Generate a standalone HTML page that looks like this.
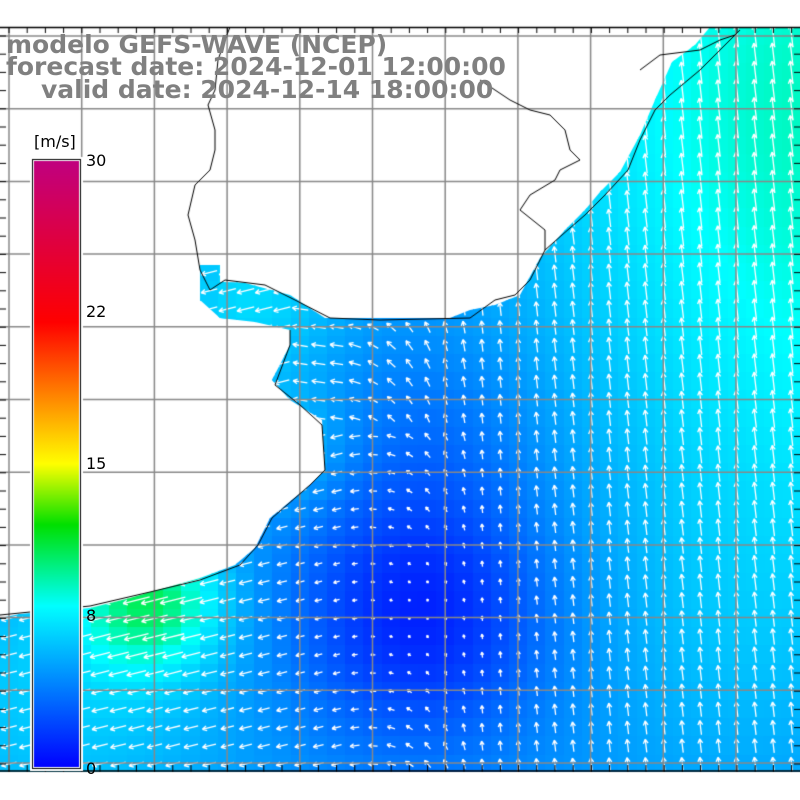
<!DOCTYPE html>
<html><head><meta charset="utf-8"><style>
html,body{margin:0;padding:0;background:#fff;}
#w{position:relative;width:800px;height:800px;overflow:hidden;font-family:"DejaVu Sans","Liberation Sans",sans-serif;}
canvas{position:absolute;left:0;top:0;}
.t{position:absolute;color:#808080;font-weight:bold;font-size:25px;white-space:nowrap;line-height:1;}
.l{position:absolute;font-size:16px;color:#000;}
</style></head><body><div id="w">
<canvas id="c" width="800" height="800"></canvas>
<div class="t" style="left:6px;top:32px">modelo GEFS-WAVE (NCEP)</div>
<div class="t" style="left:6px;top:54px">forecast date: 2024-12-01 12:00:00</div>
<div class="t" style="left:41px;top:77px">valid date: 2024-12-14 18:00:00</div>
<div class="l" style="left:34px;top:132px">[m/s]</div>
<div class="l" style="left:86px;top:151px">30</div>
<div class="l" style="left:86px;top:302px">22</div>
<div class="l" style="left:86px;top:454px">15</div>
<div class="l" style="left:86px;top:606px">8</div>
<div class="l" style="left:86px;top:759px">0</div>
</div>
<script>
const c=document.getElementById('c'),g=c.getContext('2d');
g.fillStyle='#fff';g.fillRect(0,0,800,800);
const ocean=[[710,27],[800,27],[800,772],[0,772],[0,618],[20,614],[90,608],[130,598],[200,578],[235,565],[255,548],[270,518],[310,485],[325,470],[322,420],[290,400],[272,380],[290,345],[290,330],[255,322],[220,318],[200,300],[200,265],[220,265],[220,282],[245,283],[290,295],[325,318],[450,318],[470,310],[495,305],[520,295],[540,258],[565,230],[585,210],[600,192],[620,172],[640,135],[655,100],[672,62],[695,45]];
function blob(x,y,cx,cy,r,a){const d=((x-cx)**2+(y-cy)**2)/(r*r);return a*Math.exp(-d);}
function speed(x,y){let s=4.6;
s+=blob(x,y,420,615,130,-3.6);
s+=blob(x,y,440,430,110,-1.0);
s+=blob(x,y,820,80,300,4.2);
s+=blob(x,y,820,420,220,1.6);
s+=blob(x,y,150,600,70,5.0);
s+=blob(x,y,60,690,180,1.8);
s+=blob(x,y,250,300,90,2.2);
s+=blob(x,y,290,450,60,1.5);
s+=blob(x,y,740,650,160,1.0);
return Math.max(0.3,s);}
function col(s){const st=[[0,[0,0,255]],[8,[0,255,255]],[12,[0,230,0]],[15,[255,255,0]],[22,[255,0,0]],[30,[192,0,128]]];
s=Math.max(0,Math.min(30,s));for(let i=0;i<st.length-1;i++){if(s<=st[i+1][0]){const f=(s-st[i][0])/(st[i+1][0]-st[i][0]);const a=st[i][1],b=st[i+1][1];return 'rgb('+a.map((v,k)=>Math.round(v+(b[k]-v)*f)).join(',')+')';}}return 'rgb(192,0,128)';}
g.save();g.beginPath();ocean.forEach((p,i)=>i?g.lineTo(p[0],p[1]):g.moveTo(p[0],p[1]));g.closePath();g.clip();
const cs=18.2;
for(let y=27;y<772;y+=cs)for(let x=0;x<800;x+=cs){g.fillStyle=col(speed(x+9,y+9));g.fillRect(Math.floor(x),Math.floor(y),Math.ceil(cs)+1,Math.ceil(cs)+1);}
g.strokeStyle='#fff';g.lineWidth=1.3;
for(let y=27+9;y<772;y+=cs)for(let x=9;x<800;x+=cs){
 const s=speed(x,y);
 const t=Math.max(0,Math.min(1,(x-340)/140));
 let dx=-1*(1-t)+(-0.12)*t, dy=0.25*(1-t)-1*t;
 if(y<430&&x>300&&x<480){dy-=0.4;}
 const n=Math.hypot(dx,dy);dx/=n;dy/=n;
 const L=Math.max(2,s*2.6);
 const x0=x-dx*L/2,y0=y-dy*L/2,x1=x+dx*L/2,y1=y+dy*L/2;
 g.beginPath();g.moveTo(x0,y0);g.lineTo(x1,y1);
 const a=Math.atan2(dy,dx),h=Math.min(5,1.5+L*0.3);
 g.moveTo(x1,y1);g.lineTo(x1-h*Math.cos(a-0.5),y1-h*Math.sin(a-0.5));
 g.moveTo(x1,y1);g.lineTo(x1-h*Math.cos(a+0.5),y1-h*Math.sin(a+0.5));
 g.stroke();}
g.restore();
g.strokeStyle='#888';g.lineWidth=1.5;
for(let i=0;i<12;i++){const x=9+i*72.7;g.beginPath();g.moveTo(x,27);g.lineTo(x,772);g.stroke();}
for(let i=0;i<11;i++){const y=36+i*72.7;g.beginPath();g.moveTo(0,y);g.lineTo(800,y);g.stroke();}
g.strokeStyle='#000';g.lineWidth=1;
const coast=[[740,30],[700,70],[670,95],[655,110],[640,140],[628,170],[605,195],[585,215],[562,235],[545,250],[530,280],[515,295],[495,300],[470,318],[380,320],[330,318],[295,300],[265,285],[225,280],[210,290],[200,270],[195,240],[188,215],[195,185],[210,170],[215,150],[215,130],[208,105],[215,90],[218,60],[225,40],[230,27]];
g.beginPath();coast.forEach((p,i)=>i?g.lineTo(p[0],p[1]):g.moveTo(p[0],p[1]));g.stroke();
const coast2=[[0,615],[90,606],[150,592],[200,580],[240,565],[258,545],[272,518],[310,485],[325,470],[322,425],[300,405],[275,385],[290,345],[290,330]];
g.beginPath();coast2.forEach((p,i)=>i?g.lineTo(p[0],p[1]):g.moveTo(p[0],p[1]));g.stroke();
const border=[[480,80],[510,100],[530,110],[550,115],[565,130],[570,150],[580,160],[560,170],[555,180],[530,195],[520,210],[545,230],[545,250]];
g.beginPath();border.forEach((p,i)=>i?g.lineTo(p[0],p[1]):g.moveTo(p[0],p[1]));g.stroke();
const b2=[[640,70],[660,55],[700,50],[720,40],[735,35]];
g.beginPath();b2.forEach((p,i)=>i?g.lineTo(p[0],p[1]):g.moveTo(p[0],p[1]));g.stroke();
g.lineWidth=1.5;g.beginPath();g.moveTo(0,27.5);g.lineTo(800,27.5);g.stroke();
g.beginPath();g.moveTo(0,771);g.lineTo(800,771);g.stroke();
g.lineWidth=1;
for(let x=9;x<800;x+=18.2){g.beginPath();g.moveTo(x,27);g.lineTo(x,33);g.stroke();g.beginPath();g.moveTo(x,772);g.lineTo(x,765);g.stroke();}
for(let y=36;y<772;y+=18.2){g.beginPath();g.moveTo(0,y);g.lineTo(6,y);g.stroke();g.beginPath();g.moveTo(800,y);g.lineTo(794,y);g.stroke();}
g.fillStyle='#fff';g.fillRect(30,157,53,614);
const gr=g.createLinearGradient(0,768,0,160);
[[0,'#0000ff'],[8/30,'#00ffff'],[12/30,'#00e000'],[15/30,'#ffff00'],[22/30,'#ff0000'],[1,'#c00080']].forEach(s=>gr.addColorStop(s[0],s[1]));
g.fillStyle=gr;g.fillRect(34,161,45,606);
g.strokeStyle='#000';g.strokeRect(32.5,159.5,48,609);
</script></body></html>
